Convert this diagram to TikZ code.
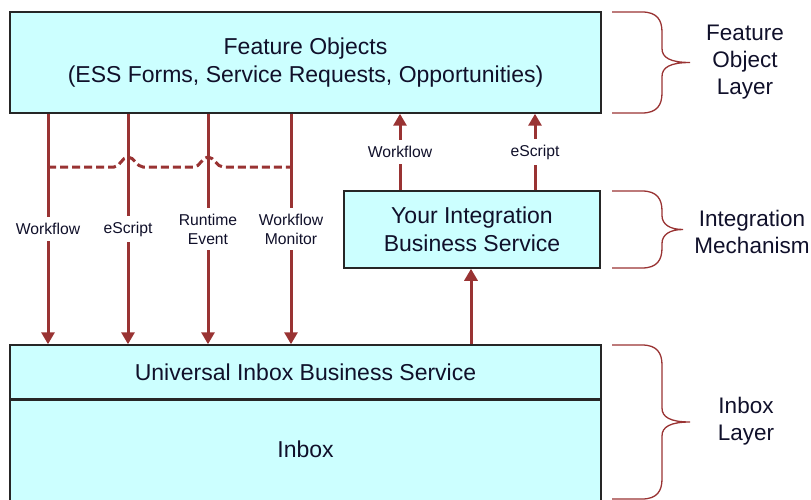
\documentclass[tikz,border=0pt]{standalone}
\usepackage{fontspec}
\setmainfont{Liberation Sans}
\usetikzlibrary{arrows.meta,calc}
\definecolor{boxfill}{HTML}{CCFFFF}
\definecolor{arrred}{HTML}{993333}
\definecolor{txt}{HTML}{10102A}
\newcommand\layerbrace[3]{%
 \pgfmathsetmacro\ymid{(#1+#2)/2}%
 \draw[brace] (612,#1) -- (642,#1) .. controls (657,#1) and (662,#1+8) .. (662,#1+20) -- (662,\ymid-14) .. controls (662,\ymid-5) and (670,\ymid) .. (#3,\ymid) .. controls (670,\ymid) and (662,\ymid+5) .. (662,\ymid+14) -- (662,#2-20) .. controls (662,#2-8) and (657,#2) .. (642,#2) -- (612,#2);}
\begin{document}
\begin{tikzpicture}[x=1pt,y=-1pt,
 box/.style={draw=black!85,line width=1.5pt,fill=boxfill,inner sep=0pt,text=txt,font=\fontsize{23}{28}\selectfont,align=center},
 arr/.style={draw=arrred,line width=3pt,-{Triangle[width=13pt,length=12pt]}},
 lbl/.style={fill=white,inner xsep=2pt,inner ysep=6pt,text=txt,font=\fontsize{15.7}{19}\selectfont,align=center},
 brace/.style={draw=arrred,line width=1.3pt},
 side/.style={text=txt,font=\fontsize{22.5}{27}\selectfont,align=center},
 dashline/.style={draw=arrred,line width=3pt,dash pattern=on 8pt off 4pt}]
\useasboundingbox (0,0) rectangle (811,500);
\clip (0,0) rectangle (811,500);
\node[box,minimum width=591pt,minimum height=101pt] (fo) at (305.5,62.5) {Feature Objects\\(ESS Forms, Service Requests, Opportunities)};
\node[box,minimum width=256pt,minimum height=77pt] (ibs) at (472,229.5) {Your Integration\\Business Service};
\node[box,minimum width=591pt,minimum height=54pt] (ubs) at (305.5,372) {Universal Inbox Business Service};
\node[box,minimum width=591pt,minimum height=115pt,anchor=north] (inbox) at (ubs.south) {};
\node[side,font=\fontsize{23}{28}\selectfont] (inboxtxt) at (305.5,449) {Inbox};
% down arrows
\foreach \x/\t in {48/Workflow,128/eScript,208/{Runtime\\Event},291/{Workflow\\Monitor}}
  \draw[arr] (fo.south -| \x,0) -- node[lbl]{\t} (ubs.north -| \x,0);
% dashed link
\coordinate (d1) at (48,167);
\coordinate (d2) at (291,167);
\draw[dashline] (d1) -- (114,167) .. controls (120,167) and (122,157) .. (128,157) .. controls (134,157) and (137,167) .. (143,167) -- (194,167) .. controls (200,167) and (202,157) .. (208,157) .. controls (214,157) and (217,167) .. (223,167) -- (d2);
% up arrows
\draw[arr] (ibs.north -| 400,0) -- node[lbl]{Workflow} (fo.south -| 400,0);
\draw[arr] (ibs.north -| 535,0) -- node[lbl]{eScript} (fo.south -| 535,0);
\draw[arr] (ubs.north -| 471,0) -- (ibs.south -| 471,0);
% braces
\layerbrace{12}{113}{690}
\layerbrace{191}{268}{683}
\layerbrace{345}{499}{690}
\node[side] (l1) at (745,62) {Feature\\Object\\Layer};
\node[side] (l2) at (752,232) {Integration\\Mechanism};
\node[side] (l3) at (746,421) {Inbox\\Layer};
\end{tikzpicture}
\end{document}
